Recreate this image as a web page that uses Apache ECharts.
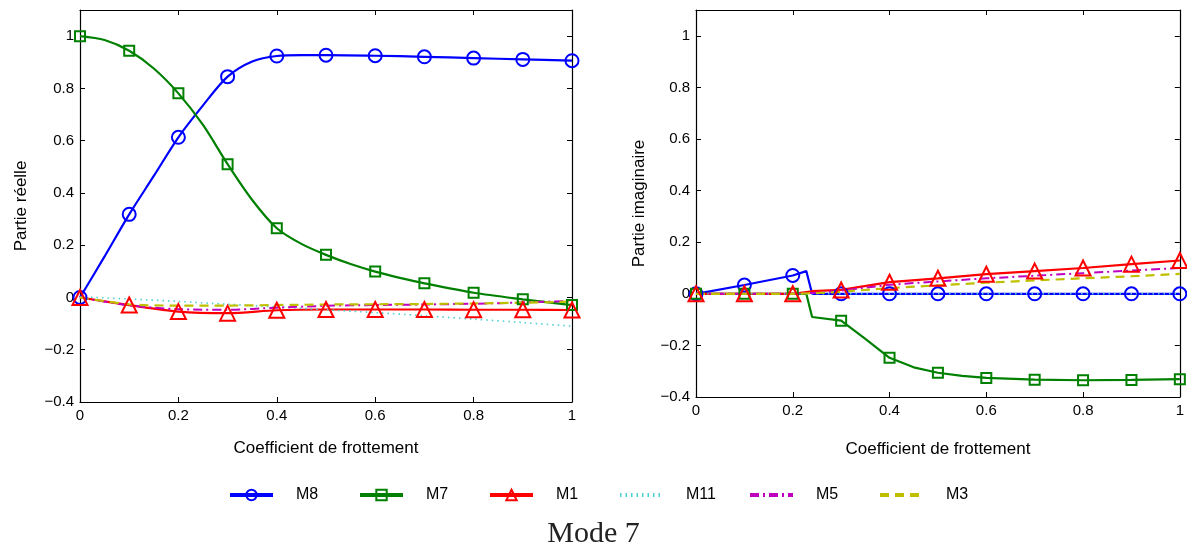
<!DOCTYPE html>
<html><head><meta charset="utf-8">
<script src="https://cdn.jsdelivr.net/npm/echarts@6/dist/echarts.min.js"></script>
<style>html,body{margin:0;padding:0;background:#fff}#c{width:1187px;height:548px}</style>
</head><body><div id="c"></div>
<script>
// ---- data (x = coefficient de frottement) ----
const markerX = [0,0.1,0.2,0.3,0.4,0.5,0.6,0.7,0.8,0.9,1];
const xTicks = [0,0.2,0.4,0.6,0.8,1];
const yTicks = [-0.4,-0.2,0,0.2,0.4,0.6,0.8,1];
const modes = ['M8','M7','M1','M11','M5','M3'];

// Partie réelle (left)
const reM8 = [[0,0],[0.05,0.157],[0.1,0.318],[0.15,0.465],[0.2,0.613],[0.25,0.735],[0.3,0.845],[0.35,0.903],[0.4,0.924],[0.45,0.927],[0.5,0.927],[0.6,0.925],[0.7,0.921],[0.8,0.916],[0.9,0.911],[1,0.906]];
const reM7 = [[0,1],[0.05,0.985],[0.1,0.944],[0.15,0.876],[0.2,0.781],[0.25,0.66],[0.3,0.51],[0.35,0.373],[0.4,0.265],[0.45,0.205],[0.5,0.163],[0.55,0.128],[0.6,0.099],[0.65,0.075],[0.7,0.054],[0.8,0.018],[0.9,-0.007],[1,-0.029]];
const reM1 = [[0,0],[0.1,-0.029],[0.2,-0.054],[0.3,-0.06],[0.4,-0.049],[0.5,-0.046],[0.6,-0.046],[0.7,-0.046],[0.8,-0.047],[0.9,-0.047],[1,-0.048]];
const reM11 = [[0,0.003],[0.1,-0.006],[0.2,-0.015],[0.3,-0.026],[0.4,-0.036],[0.5,-0.047],[0.6,-0.058],[0.7,-0.07],[0.8,-0.083],[0.9,-0.096],[1,-0.11]];
const reM5 = [[0,0],[0.1,-0.03],[0.2,-0.045],[0.3,-0.047],[0.4,-0.039],[0.5,-0.032],[0.6,-0.029],[0.7,-0.027],[0.8,-0.024],[0.9,-0.019],[1,-0.013]];
const reM3 = [[0,0],[0.1,-0.026],[0.2,-0.031],[0.3,-0.031],[0.4,-0.029],[0.5,-0.027],[0.6,-0.026],[0.7,-0.025],[0.8,-0.023],[0.9,-0.02],[1,-0.016]];

// Partie imaginaire (right)
const imM8 = [[0,0],[0.1,0.034],[0.2,0.071],[0.228,0.088],[0.24,0],[0.3,0],[0.4,0],[0.5,0],[0.6,0],[0.7,0],[0.8,0],[0.9,0],[1,0]];
const imM7 = [[0,0],[0.1,0],[0.2,0],[0.228,0],[0.24,-0.09],[0.3,-0.104],[0.35,-0.175],[0.4,-0.248],[0.45,-0.285],[0.5,-0.306],[0.55,-0.318],[0.6,-0.326],[0.7,-0.333],[0.8,-0.335],[0.9,-0.334],[1,-0.331]];
const imM1 = [[0,0],[0.1,0],[0.2,0],[0.24,0.01],[0.3,0.015],[0.4,0.045],[0.5,0.06],[0.6,0.076],[0.7,0.088],[0.8,0.1],[0.9,0.115],[1,0.129]];
const imM11 = [[0,0],[0.1,0],[0.2,0],[0.3,0],[0.4,0],[0.5,0],[0.6,0],[0.7,0],[0.8,0],[0.9,0],[1,0]];
const imM5 = [[0,0],[0.1,0],[0.2,0],[0.25,0.004],[0.3,0.012],[0.4,0.035],[0.5,0.048],[0.6,0.06],[0.7,0.07],[0.8,0.08],[0.9,0.09],[1,0.1]];
const imM3 = [[0,0],[0.1,0],[0.2,0],[0.25,0.003],[0.3,0.008],[0.4,0.022],[0.5,0.033],[0.6,0.043],[0.7,0.052],[0.8,0.06],[0.9,0.068],[1,0.077]];

// ---- styles ----
const styles = {
  M8: {color:'#0000ff', symbol:'circle', size:13, type:'solid', width:2.2},
  M7: {color:'#008000', symbol:'rect', size:10, type:'solid', width:2.2},
  M1: {color:'#ff0000', symbol:'triangle', size:15, type:'solid', width:2.2},
  M11:{color:'#4fd0d0', symbol:null, size:0, type:[1.5,4], width:1.6},
  M5: {color:'#bf00bf', symbol:null, size:0, type:[9,4,2,4], width:2},
  M3: {color:'#bfbf00', symbol:null, size:0, type:[9,6], width:2.2}
};
const isMarker = x => markerX.some(m => Math.abs(m - x) < 1e-9);

function mk(name, data, idx, smooth) {
  const s = styles[name];
  const hasSym = !!s.symbol;
  return {
    name, type:'line', xAxisIndex:idx, yAxisIndex:idx,
    smooth: smooth ? 0.3 : false,
    symbol: hasSym ? s.symbol : 'circle', symbolSize: s.size, showSymbol: hasSym,
    data: data.map(p => (hasSym && isMarker(p[0])) ? {value:p} : {value:p, symbol:'none'}),
    lineStyle:{color:s.color, width:s.width, type:s.type},
    itemStyle: hasSym
      ? {color:'rgba(255,255,255,0)', borderColor:s.color, borderWidth:2}
      : {color:'rgba(255,255,255,0)', borderColor:'rgba(255,255,255,0)', borderWidth:0},
    emphasis:{disabled:true}, animation:false, z: 2
  };
}

const fmt = v => {
  if (v > 1.05) return '';
  let s = String(Math.round(v*10)/10);
  return s.replace('-', '\u2212');
};
const font = 'Liberation Sans, Arial, sans-serif';
function xAx(gi, gap){
  return [{
    type:'value', gridIndex:gi, min:0, max:1, interval:0.2, position:'bottom',
    axisLine:{show:true, onZero:false, lineStyle:{color:'#000', width:1.2}},
    axisTick:{inside:true, length:5, lineStyle:{color:'#000'}},
    axisLabel:{formatter:fmt, color:'#000', fontSize:15, fontFamily:font, margin:6},
    splitLine:{show:false},
    name:'Coefficient de frottement', nameLocation:'middle', nameGap:gap,
    nameTextStyle:{color:'#000', fontSize:17, fontFamily:font}
  },{
    type:'value', gridIndex:gi, min:0, max:1, interval:0.2, position:'top',
    axisLine:{show:true, onZero:false, lineStyle:{color:'#000', width:1.2}},
    axisTick:{inside:true, length:5, lineStyle:{color:'#000'}},
    axisLabel:{show:false}, splitLine:{show:false}
  }];
}
function yAx(gi, name, gap){
  return [{
    type:'value', gridIndex:gi, min:-0.4, max:1.1, interval:0.2, position:'left',
    axisLine:{show:true, onZero:false, lineStyle:{color:'#000', width:1.2}},
    axisTick:{inside:true, length:5, lineStyle:{color:'#000'}},
    axisLabel:{formatter:fmt, color:'#000', fontSize:15, fontFamily:font, margin:6},
    splitLine:{show:false},
    name, nameLocation:'middle', nameGap:gap, nameRotate:90,
    nameTextStyle:{color:'#000', fontSize:17, fontFamily:font}
  },{
    type:'value', gridIndex:gi, min:-0.4, max:1.1, interval:0.2, position:'right',
    axisLine:{show:true, onZero:false, lineStyle:{color:'#000', width:1.2}},
    axisTick:{inside:true, length:5, lineStyle:{color:'#000'}},
    axisLabel:{show:false}, splitLine:{show:false}
  }];
}

const xA = xAx(0, 38).concat(xAx(1, 44));
const yA = yAx(0, 'Partie réelle', 50).concat(yAx(1, 'Partie imaginaire', 48));
const re = [reM8, reM7, reM1, reM11, reM5, reM3];
const im = [imM8, imM7, imM1, imM11, imM5, imM3];
const series = [];
modes.forEach((m,i) => series.push(mk(m, re[i], 0, true)));
modes.forEach((m,i) => series.push(mk(m, im[i], 2, false)));

// one legend component per entry, fixed slots like the MATLAB legend
const legends = modes.map((m,i) => ({
  data:[m], left: 228 + i*130, top:487, padding:0,
  itemWidth:43, itemHeight:13, lineStyle:{width:4},
  textStyle:{fontFamily:font, fontSize:16, color:'#000', padding:[0,0,0,18]},
  selectedMode:false
}));

const chart = echarts.init(document.getElementById('c'), null, {renderer:'canvas'});
chart.setOption({
  backgroundColor:'#fff',
  animation:false,
  title:{text:'Mode 7', left:'center', top:514,
    textStyle:{fontFamily:'Liberation Serif, DejaVu Serif, serif', fontWeight:'normal', fontSize:30, color:'#222'}},
  grid:[
    {left:80, top:10, width:492, height:392, containLabel:false},
    {left:696, top:10, width:489, height:387, containLabel:false}
  ],
  xAxis: xA,
  yAxis: yA,
  legend: legends,
  series
});
</script></body></html>
